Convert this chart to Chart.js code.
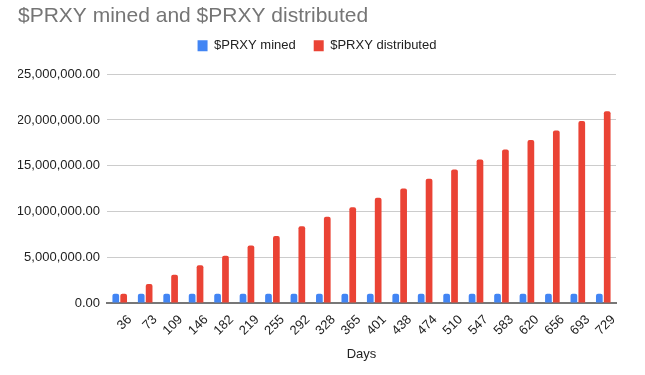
<!DOCTYPE html>
<html>
<head>
<meta charset="utf-8">
<script src="https://cdn.jsdelivr.net/npm/chart.js@4"></script>
<style>
  html, body { margin: 0; padding: 0; background: #fff; }
</style>
</head>
<body>
<canvas id="chart" width="645" height="375"></canvas>
<script>
const days = ['36', '73', '109', '146', '182', '219', '255', '292', '328', '365',
  '401', '438', '474', '510', '547', '583', '620', '656', '693', '729'];
const mined = [1000000, 1000000, 1000000, 1000000, 1000000, 1000000, 1000000, 1000000, 1000000, 1000000,
  1000000, 1000000, 1000000, 1000000, 1000000, 1000000, 1000000, 1000000, 1000000, 1000000];
const distributed = [1000000, 2070000, 3080000, 4130000, 5150000, 6270000, 7320000, 8380000, 9430000, 10450000,
  11500000, 12520000, 13570000, 14600000, 15680000, 16760000, 17800000, 18860000, 19900000, 20950000];
const yTicks = [0, 5000000, 10000000, 15000000, 20000000, 25000000];

const FONT = 'Arial, "Liberation Sans", sans-serif';

// pull the legend up closer to the title, keeping the plot where it is
const legendShift = {
  id: 'legendShift',
  afterLayout(chart) {
    chart.legend.top -= 12;
    chart.legend.bottom -= 12;
  }
};

const ctx = document.getElementById('chart').getContext('2d');
const myChart = new Chart(ctx, {
  type: 'bar',
  data: {
    labels: days,
    datasets: [{
      label: '$PRXY mined',
      data: mined,
      backgroundColor: '#4285F4',
      borderRadius: { topLeft: 2, topRight: 2 },
      borderSkipped: false,
      categoryPercentage: 0.62,
      barPercentage: 0.85
    }, {
      label: '$PRXY distributed',
      data: distributed,
      backgroundColor: '#EA4335',
      borderRadius: { topLeft: 2, topRight: 2 },
      borderSkipped: false,
      categoryPercentage: 0.62,
      barPercentage: 0.85
    }]
  },
  plugins: [legendShift],
  options: {
    responsive: false,
    animation: false,
    layout: {
      padding: { left: 18, right: 29, top: 0, bottom: 0 }
    },
    plugins: {
      title: {
        display: true,
        text: '$PRXY mined and $PRXY distributed',
        align: 'start',
        color: '#757575',
        font: { family: FONT, size: 21, weight: 'normal' },
        padding: { top: 4, bottom: 4 }
      },
      legend: {
        display: true,
        labels: {
          boxWidth: 10,
          boxHeight: 11,
          color: '#222',
          padding: 18,
          font: { family: FONT, size: 13 }
        }
      },
      tooltip: { enabled: false }
    },
    scales: {
      y: {
        min: 0,
        max: 25000000,
        afterBuildTicks: function(scale) {
          scale.ticks = yTicks.map(v => ({ value: v }));
        },
        afterFit: function(scale) {
          scale.width = 89; // plot starts at x=107
        },
        ticks: {
          color: '#222',
          padding: 7,
          font: { family: FONT, size: 13 },
          callback: function(value) {
            return value.toLocaleString('en-US', { minimumFractionDigits: 2, maximumFractionDigits: 2 });
          }
        },
        grid: {
          color: '#cccccc',
          drawTicks: false
        },
        border: { display: false }
      },
      x: {
        afterFit: function(scale) {
          scale.height = 72; // axis bottom at y=303
        },
        ticks: {
          color: '#222',
          autoSkip: false,
          minRotation: 45,
          maxRotation: 45,
          padding: 9,
          labelOffset: 10,
          font: { family: FONT, size: 13 }
        },
        title: {
          display: true,
          text: 'Days',
          color: '#222',
          font: { family: FONT, size: 13 },
          padding: { top: 8, bottom: 13 }
        },
        grid: { display: false, drawTicks: false },
        border: { display: true, color: '#777', width: 2 }
      }
    }
  }
});
</script>
</body>
</html>
